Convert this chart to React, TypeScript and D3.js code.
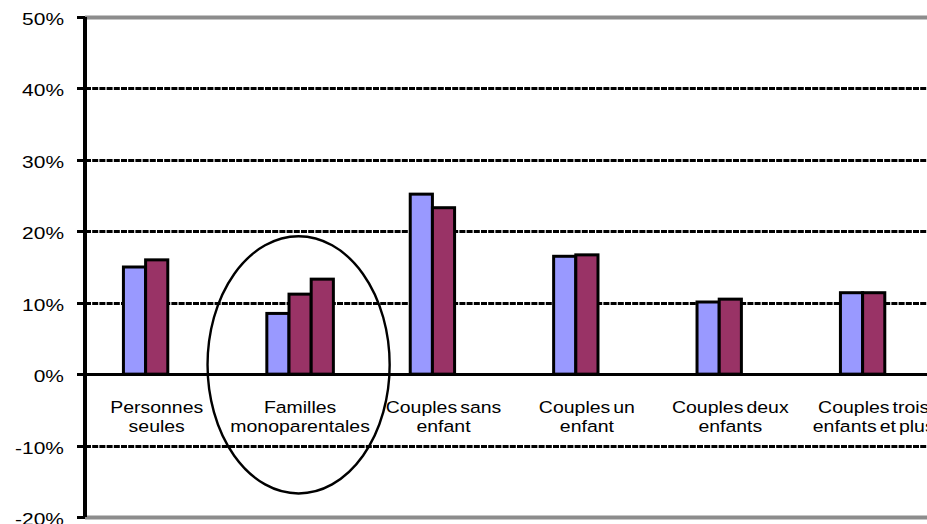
import React from "react";
import * as d3 from "d3";

const categories = [
  "Personnes seules",
  "Familles monoparentales",
  "Couples sans enfant",
  "Couples un enfant",
  "Couples deux enfants",
  "Couples trois enfants et plus",
];
const labelLines: string[][] = [
  ["Personnes", "seules"],
  ["Familles", "monoparentales"],
  ["Couples sans", "enfant"],
  ["Couples un", "enfant"],
  ["Couples deux", "enfants"],
  ["Couples trois", "enfants et plus"],
];
const series1 = [0.150, 0.085, 0.252, 0.165, 0.101, 0.114];
const series2 = [0.160, 0.112, 0.233, 0.167, 0.105, 0.114];
const series3: (number | null)[] = [null, 0.133, null, null, null, null];
const seriesColors = ["#9999FF", "#993366", "#993366"];
const yTicks = [0.5, 0.4, 0.3, 0.2, 0.1, 0, -0.1, -0.2];
// annotation ellipse around "Familles monoparentales" (value range)
const ellipseTop = 0.193;
const ellipseBottom = -0.167;
const ellipseCategory = "Familles monoparentales";

const W = 927;
const H = 524;
const axisX = 85;
const plotTop = 17;
const plotBottom = 517;
const step = 143.4;
const font = "'Liberation Sans', Arial, sans-serif";

export default function App() {
  const y = d3.scaleLinear().domain([-0.2, 0.5]).range([plotBottom, plotTop]);
  const x = d3
    .scaleBand<string>()
    .domain(categories)
    .range([axisX, axisX + step * categories.length])
    .padding(0);
  const groupW = x.bandwidth() * 0.464;
  const xs = d3.scaleBand<number>().domain([0, 1, 2]).range([0, groupW]);
  const gOff = (x.bandwidth() - groupW) / 2;
  const all = [series1, series2, series3];
  const fmt = (t: number) => d3.format(".0%")(t).replace("\u2212", "-");
  const py = (t: number) => Math.round(y(t)) + 0.5;

  const ex = (x(ellipseCategory) as number) + x.bandwidth() / 2 - 1.5;
  const eTop = y(ellipseTop);
  const eBot = y(ellipseBottom);

  return (
    <svg
      width={W}
      height={H}
      style={{ position: "fixed", left: 0, top: 0, background: "#fff" }}
      fontFamily={font}
    >
      {/* gridlines */}
      {yTicks.map((t) => {
        const edge = t === 0.5 || t === -0.2;
        if (t === 0) return null;
        return (
          <line
            key={"g" + t}
            x1={axisX}
            x2={W}
            y1={py(t)}
            y2={py(t)}
            stroke={edge ? "#8c8c8c" : "#000"}
            strokeWidth={edge ? 4 : 3}
            strokeDasharray={edge ? undefined : "6,1.2"}
          />
        );
      })}
      {/* bars */}
      {all.map((s, si) =>
        s.map((v, ci) =>
          v == null ? null : (
            <rect
              key={`b${si}-${ci}`}
              x={(x(categories[ci]) as number) + gOff + (xs(si) as number)}
              y={y(Math.max(0, v))}
              width={xs.bandwidth()}
              height={Math.abs(y(v) - y(0))}
              fill={seriesColors[si]}
              stroke="#000"
              strokeWidth={3}
            />
          )
        )
      )}
      {/* zero line */}
      <line x1={axisX} x2={W} y1={py(0)} y2={py(0)} stroke="#000" strokeWidth={3} />
      {/* y axis */}
      <line x1={axisX} x2={axisX} y1={plotTop} y2={plotBottom} stroke="#000" strokeWidth={4} />
      {yTicks.map((t) => (
        <g key={"t" + t}>
          <line x1={axisX - 8} x2={axisX} y1={py(t)} y2={py(t)} stroke="#000" strokeWidth={3} />
          <text
            transform={`translate(64,${y(t) + 8}) scale(1.27,1)`}
            textAnchor="end"
            fontSize={16.5}
            fill="#000"
          >
            {fmt(t)}
          </text>
        </g>
      ))}
      {/* category labels */}
      {categories.map((c, i) => {
        const cx = (x(c) as number) + x.bandwidth() / 2;
        return (
          <g key={"c" + c}>
            {labelLines[i].map((ln, li) => (
              <text
                key={li}
                transform={`translate(${cx},${413 + li * 19}) scale(1.18,1)`}
                textAnchor="middle"
                fontSize={16.5}
                wordSpacing={-2}
                fill="#000"
              >
                {ln}
              </text>
            ))}
          </g>
        );
      })}
      {/* annotation ellipse */}
      <ellipse
        cx={ex}
        cy={(eTop + eBot) / 2}
        rx={step * 0.635}
        ry={(eBot - eTop) / 2}
        fill="none"
        stroke="#000"
        strokeWidth={2.4}
      />
    </svg>
  );
}
